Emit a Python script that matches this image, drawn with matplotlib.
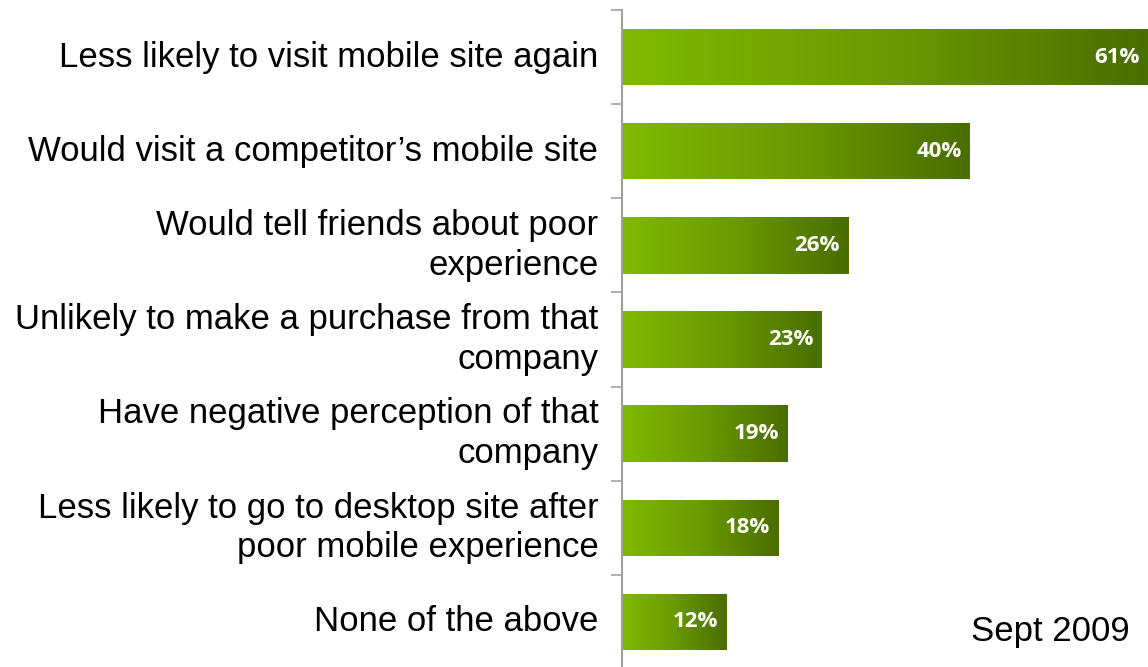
import numpy as np
import matplotlib.pyplot as plt
from matplotlib.colors import LinearSegmentedColormap

categories = [
    "Less likely to visit mobile site again",
    "Would visit a competitor\u2019s mobile site",
    "Would tell friends about poor\nexperience",
    "Unlikely to make a purchase from that\ncompany",
    "Have negative perception of that\ncompany",
    "Less likely to go to desktop site after\npoor mobile experience",
    "None of the above",
]
values = [61, 40, 26, 23, 19, 18, 12]
labels = ["61%", "40%", "26%", "23%", "19%", "18%", "12%"]

green = LinearSegmentedColormap.from_list("grn", ["#80b900", "#6a9a00", "#4a6d00"])
grad = np.linspace(0, 1, 256).reshape(1, -1)

fig = plt.figure(figsize=(11.48, 6.67), dpi=100)
ax = fig.add_axes([622 / 1148, -0.003, 526 / 1148, 0.988])

y = np.arange(len(values))
bars = ax.barh(y, values, height=0.6, color="none", edgecolor="none")
for b, v in zip(bars, values):
    x0, y0 = b.get_x(), b.get_y()
    im = ax.imshow(grad, cmap=green, aspect="auto", extent=(x0, x0 + v, y0 + b.get_height(), y0),
                   zorder=2)
    im.set_clip_path(b)
    b.set_zorder(2)

for yi, v, lab in zip(y, values, labels):
    ax.annotate(lab, (min(v, 60.5), yi), xytext=(-6, 0), textcoords="offset points",
                ha="right", va="center", color="white", fontsize=16, fontweight="bold",
                family="Open Sans", zorder=3)

for yi, cat in zip(y, categories):
    ax.text(-0.045, yi, cat, transform=ax.get_yaxis_transform(), ha="right", va="center",
            fontsize=25, family="Liberation Sans", color="black", linespacing=1.25)

ax.set_xlim(0, 60.5)
ax.set_ylim(len(values) - 0.5, -0.5)
ax.set_yticks(np.arange(-0.5, len(values), 1))
ax.set_yticklabels([])
ax.set_xticks([])
ax.tick_params(axis="y", length=8, width=1.2, color="#a0a0a0", direction="out")
for s in ["top", "right", "bottom"]:
    ax.spines[s].set_visible(False)
ax.spines["left"].set_color("#a0a0a0")
ax.spines["left"].set_linewidth(1.5)

fig.text(1130 / 1148, 1 - 632 / 667, "Sept 2009", ha="right", va="center",
         fontsize=25, family="Liberation Sans")

fig.savefig("out.png", dpi=100)
